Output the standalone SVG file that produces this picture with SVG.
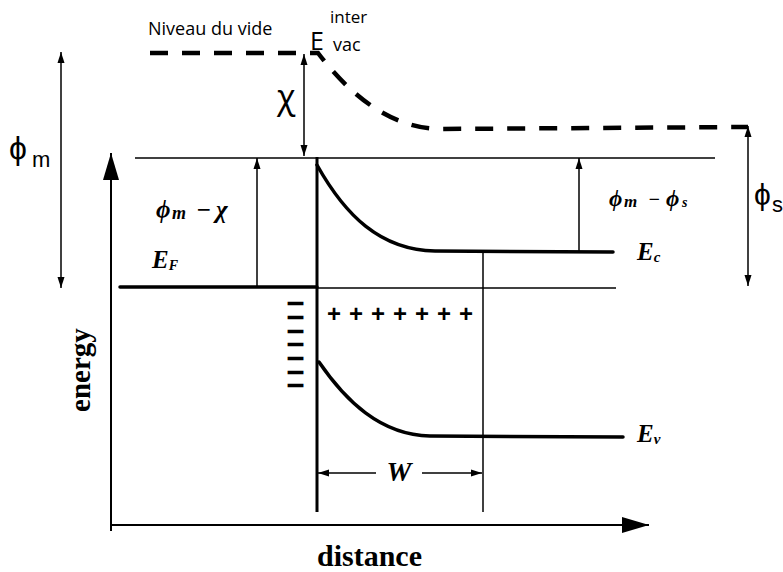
<svg xmlns="http://www.w3.org/2000/svg" width="783" height="572" viewBox="0 0 783 572">
<style>
.thin{stroke:#000;stroke-width:1.5;fill:none}
.thick{stroke:#000;stroke-width:3.5;fill:none;stroke-linecap:round}
.vac{stroke:#000;stroke-width:4.5;fill:none;stroke-dasharray:18 14}
.sans{font-family:"Open Sans","Liberation Sans",sans-serif;fill:#000}
.arial{font-family:"Liberation Sans",Arial,sans-serif;fill:#000}
.bi{font-family:"Liberation Serif","Times New Roman",serif;font-weight:bold;font-style:italic;fill:#000}
.b{font-family:"Liberation Serif","Times New Roman",serif;font-weight:bold;fill:#000}
.minus{font-family:"Liberation Sans",Arial,sans-serif;font-weight:bold;font-size:11px;fill:#000;stroke:#000;stroke-width:2.4}
</style>
<defs>
<marker id="ah" markerUnits="userSpaceOnUse" markerWidth="12" markerHeight="8" refX="11" refY="4" orient="auto-start-reverse"><path d="M0,0.5 L11,4 L0,7.5 Z" fill="#000"/></marker>
<marker id="big" markerUnits="userSpaceOnUse" markerWidth="28" markerHeight="18" refX="27" refY="9" orient="auto"><path d="M0,1 L27,9 L0,17 Z" fill="#000"/></marker>
</defs>
<rect width="783" height="572" fill="#fff"/>

<g id="vacuum-level">
<path class="vac" d="M150,53 L318,53 C350,95 390,128 440,129 L748,127"/>
<text class="sans" x="148" y="35" font-size="18">Niveau du vide</text>
<text class="sans" x="310" y="50" font-size="25">E</text>
<text class="sans" x="330" y="23" font-size="17">inter</text>
<text class="sans" x="333" y="51" font-size="18">vac</text>
</g>

<g id="levels">
<line class="thin" x1="135" y1="158" x2="715" y2="158"/>
<line class="thick" x1="120" y1="287" x2="317" y2="287"/>
<line class="thin" x1="317" y1="288" x2="616" y2="288"/>
<line x1="317" y1="157" x2="317" y2="512" stroke="#000" stroke-width="3"/>
<line class="thin" x1="483" y1="252" x2="483" y2="512"/>
</g>

<g id="Ec">
<path class="thick" d="M317,165 C345,215 380,250 435,251 L613,252"/>
<text class="bi" x="637" y="260" font-size="25">E<tspan font-size="15" dy="2">c</tspan></text>
</g>

<g id="Ev">
<path class="thick" d="M319,362 C345,400 380,435 430,436 L623,437"/>
<text class="bi" x="637" y="442" font-size="25">E<tspan font-size="15" dy="2">v</tspan></text>
</g>

<g id="EF">
<text class="bi" x="152" y="268" font-size="25">E<tspan font-size="14" dy="2">F</tspan></text>
</g>

<g id="charges">
<text class="arial" x="327" y="322" font-size="24" font-weight="bold" letter-spacing="8">+++++++</text>
<text class="minus" x="289" y="307" textLength="13" lengthAdjust="spacingAndGlyphs">—</text>
<text class="minus" x="289" y="320.5" textLength="13" lengthAdjust="spacingAndGlyphs">—</text>
<text class="minus" x="289" y="334.5" textLength="13" lengthAdjust="spacingAndGlyphs">—</text>
<text class="minus" x="289" y="348" textLength="13" lengthAdjust="spacingAndGlyphs">—</text>
<text class="minus" x="289" y="362" textLength="13" lengthAdjust="spacingAndGlyphs">—</text>
<text class="minus" x="289" y="375.5" textLength="13" lengthAdjust="spacingAndGlyphs">—</text>
<text class="minus" x="289" y="389" textLength="13" lengthAdjust="spacingAndGlyphs">—</text>
</g>

<g id="axes">
<line x1="111" y1="531" x2="111" y2="153" stroke="#000" stroke-width="2" marker-end="url(#big)"/>
<line x1="110" y1="525" x2="649" y2="525" stroke="#000" stroke-width="2" marker-end="url(#big)"/>
<text class="b" transform="translate(90,370) rotate(-90)" text-anchor="middle" font-size="29">energy</text>
<text class="b" x="317" y="566" font-size="30">distance</text>
</g>

<g id="connectors">
<line class="thin" x1="304" y1="54" x2="304" y2="156" marker-start="url(#ah)" marker-end="url(#ah)"/>
<line class="thin" x1="61" y1="52" x2="61" y2="288" marker-start="url(#ah)" marker-end="url(#ah)"/>
<line class="thin" x1="748" y1="126" x2="748" y2="286" marker-start="url(#ah)" marker-end="url(#ah)"/>
<line class="thin" x1="257" y1="287" x2="257" y2="158" marker-end="url(#ah)"/>
<line class="thin" x1="579" y1="252" x2="579" y2="158" marker-end="url(#ah)"/>
<line class="thin" x1="318" y1="473" x2="376" y2="473" marker-start="url(#ah)"/>
<line class="thin" x1="422" y1="473" x2="482" y2="473" marker-end="url(#ah)"/>
</g>

<g id="labels">
<text class="sans" x="277" y="109" font-size="34">χ</text>
<text class="arial" x="9" y="159" font-size="32">ϕ</text>
<text class="arial" x="32" y="167" font-size="22">m</text>
<text class="arial" x="754" y="205" font-size="30">ϕ</text>
<text class="arial" x="772" y="212" font-size="22">s</text>
<text class="bi" x="156" y="218" font-size="25">ϕ<tspan x="172" font-size="18" dy="1">m</tspan><tspan x="196" dy="-1">−</tspan><tspan x="216">χ</tspan></text>
<text class="bi" x="609" y="206" font-size="23">ϕ<tspan x="624" font-size="17" dy="1">m</tspan><tspan x="648" dy="-1" font-size="20">−</tspan><tspan x="666">ϕ</tspan><tspan x="682" font-size="14" dy="1">s</tspan></text>
<text class="bi" x="399" y="481" font-size="28" text-anchor="middle">W</text>
</g>
</svg>
